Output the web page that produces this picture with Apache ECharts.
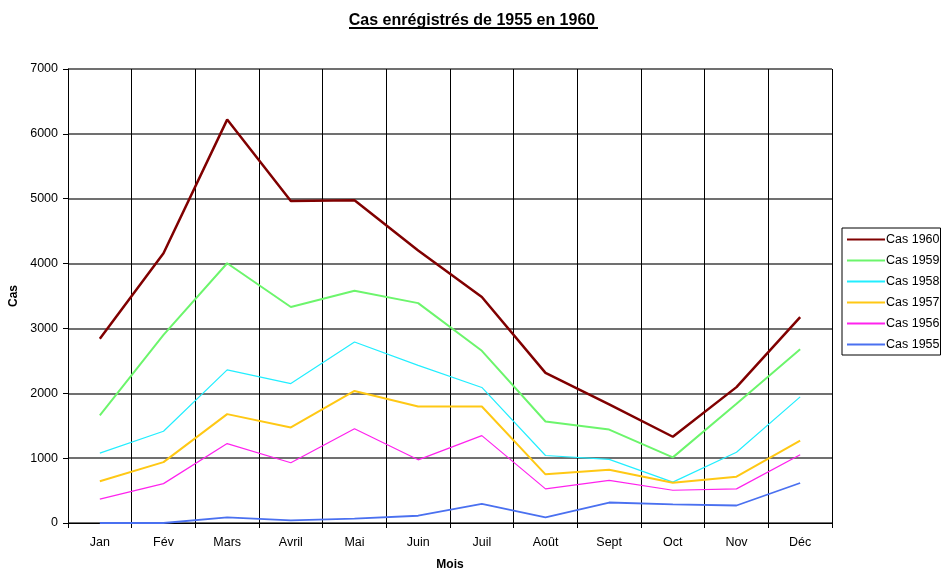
<!DOCTYPE html>
<html>
<head>
<meta charset="utf-8">
<script src="https://cdn.jsdelivr.net/npm/echarts@6/dist/echarts.min.js"></script>
<style>
  html, body { margin: 0; padding: 0; background: #fff; }
  #chart { width: 944px; height: 571px; }
</style>
</head>
<body>
<div id="chart"></div>
<script>
// données
const mois = ['Jan', 'Fév', 'Mars', 'Avril', 'Mai', 'Juin', 'Juil', 'Août', 'Sept', 'Oct', 'Nov', 'Déc'];
const cas1960 = [2840, 4160, 6220, 4965, 4975, 4200, 3485, 2315, 1830, 1330, 2095, 3175];
const cas1959 = [1660, 2900, 4005, 3330, 3580, 3390, 2655, 1565, 1440, 1012, 1840, 2678];
const cas1958 = [1077, 1415, 2360, 2150, 2790, 2430, 2090, 1041, 980, 630, 1092, 1944];
const cas1957 = [643, 939, 1679, 1474, 2036, 1796, 1796, 750, 821, 622, 714, 1270];
const cas1956 = [367, 607, 1224, 929, 1454, 974, 1347, 526, 658, 505, 526, 1051];
const cas1955 = [0, 0, 87, 41, 66, 112, 296, 87, 316, 286, 270, 617];

const font = '"Liberation Sans", Arial, sans-serif';

const chart = echarts.init(document.getElementById('chart'));

function serie(name, data, color, width) {
  return {
    name: name,
    type: 'line',
    data: data,
    symbol: 'none',
    lineStyle: { color: color, width: width },
    itemStyle: { color: color },
    z: 3
  };
}

chart.setOption({
  animation: false,
  textStyle: { fontFamily: font, color: '#000' },
  title: {
    text: 'Cas enrégistrés de 1955 en 1960',
    left: 'center',
    top: 8,
    textStyle: { fontFamily: font, fontSize: 16, fontWeight: 'bold', color: '#000' }
  },
  graphic: [{
    type: 'line',
    shape: { x1: 349, y1: 28, x2: 598, y2: 28 },
    style: { stroke: '#000', lineWidth: 2 }
  }],
  legend: {
    orient: 'vertical',
    left: 842,
    top: 228,
    itemWidth: 38,
    itemHeight: 10,
    itemGap: 8,
    padding: [5, 1, 4, 5],
    borderColor: '#000',
    borderWidth: 1,
    textStyle: { fontFamily: font, fontSize: 12.5, color: '#000', padding: [0, 0, 0, -4] },
    icon: 'path://M0,4 L38,4 L38,6 L0,6 Z',
    data: ['Cas 1960', 'Cas 1959', 'Cas 1958', 'Cas 1957', 'Cas 1956', 'Cas 1955']
  },
  grid: { left: 68, right: 112, top: 69, bottom: 48, containLabel: false, outerBoundsMode: 'none' },
  xAxis: {
    type: 'category',
    data: mois,
    boundaryGap: true,
    name: 'Mois',
    nameLocation: 'middle',
    nameGap: 36,
    nameTextStyle: { fontFamily: font, fontSize: 12, fontWeight: 'bold', color: '#000' },
    axisLine: { lineStyle: { color: '#000', width: 1 } },
    axisTick: { show: true, length: 5, lineStyle: { color: '#000' } },
    axisLabel: { fontFamily: font, fontSize: 12.5, color: '#000', margin: 13 },
    splitLine: { show: true, lineStyle: { color: '#000', width: 1 } }
  },
  yAxis: {
    type: 'value',
    min: 0,
    max: 7000,
    interval: 1000,
    name: 'Cas',
    nameLocation: 'middle',
    nameGap: 48,
    nameTextStyle: { fontFamily: font, fontSize: 12, fontWeight: 'bold', color: '#000' },
    axisLine: { show: true, lineStyle: { color: '#000', width: 1 } },
    axisTick: { show: true, length: 5, lineStyle: { color: '#000' } },
    axisLabel: { fontFamily: font, fontSize: 12.5, color: '#000', margin: 10, formatter: (v) => String(v) },
    splitLine: { show: true, lineStyle: { color: '#707070', width: 2 } }
  },
  series: [
    serie('Cas 1960', cas1960, '#800000', 2.5),
    serie('Cas 1959', cas1959, '#6cf56c', 2),
    serie('Cas 1958', cas1958, '#22eeff', 1.2),
    serie('Cas 1957', cas1957, '#ffc814', 2),
    serie('Cas 1956', cas1956, '#ff22ee', 1.2),
    serie('Cas 1955', cas1955, '#4a70f0', 1.8)
  ]
});
</script>
</body>
</html>
